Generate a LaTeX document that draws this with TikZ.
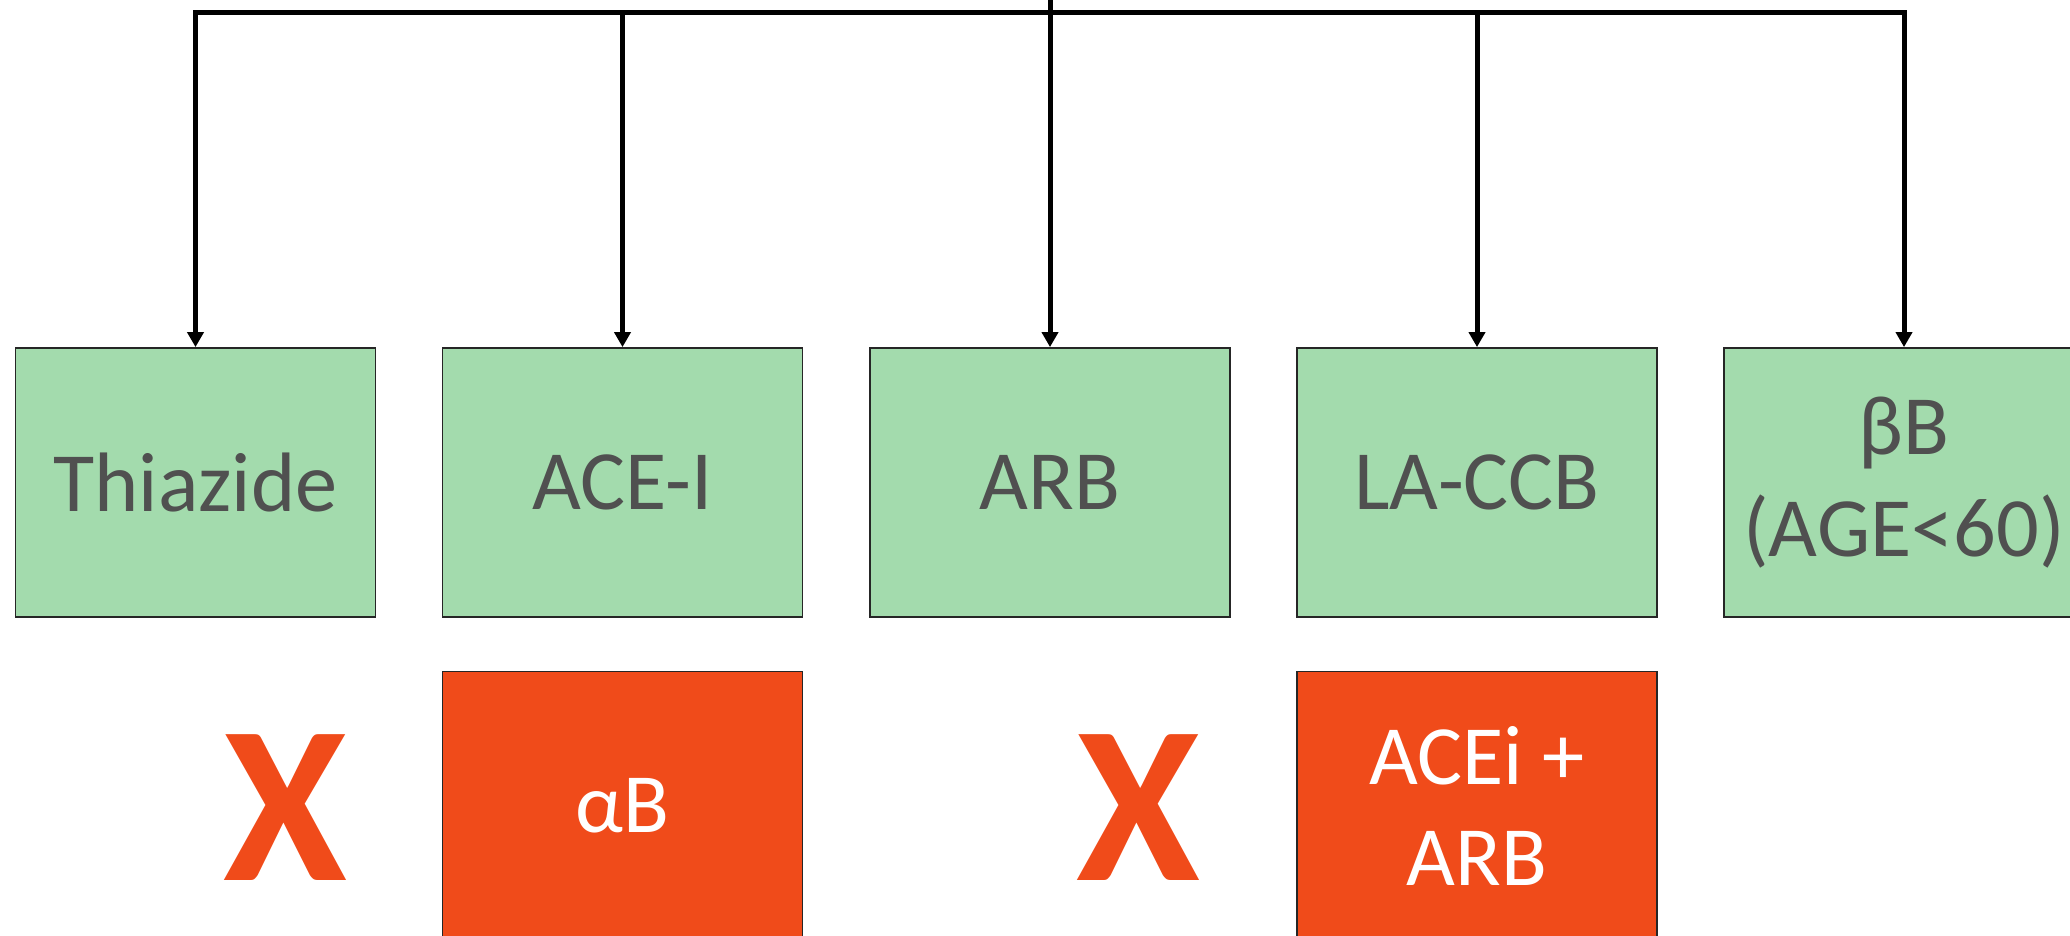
\documentclass[tikz,border=0pt]{standalone}
\usepackage{fontspec}
\setmainfont{Carlito}
\usepackage{xcolor}
\usepackage{tikz}
\usetikzlibrary{positioning, arrows.meta}

\definecolor{drugGreen}{RGB}{163,219,173}
\definecolor{stopRed}{RGB}{240,75,26}
\definecolor{textGray}{RGB}{80,80,80}

\begin{document}
\begin{tikzpicture} [drug/.style = {draw=black!85,
					    line width = 0.5pt,
					    rectangle,
					    minimum width = 3.60cm,
					    minimum height = 2.69cm,
					    fill = drugGreen,
					    text = textGray,
					    align = center,
					    font = \fontsize{24}{28.8}\selectfont},
					 avoid/.style = {drug, fill = stopRed, text = white},
					 cross/.style = {text = stopRed,
					    font = \fontsize{64}{70}\selectfont\bfseries},
					 link/.style = {line width = 0.5mm,
					    -{Triangle[length=1.5mm, width=1.6mm]}}]

					\useasboundingbox (0,0) rectangle (20.70,9.35);
					\clip (0,0) rectangle (20.70,9.35);

					\node (thia) at (1.955,4.525) [drug] {Thiazide};
					\node (acei) at (6.225,4.525) [drug] {ACE-I};
					\node (arb)  at (10.50,4.525) [drug] {ARB};
					\node (ccb)  at (14.77,4.525) [drug] {LA-CCB};
					\node (bb)   at (19.04,4.525) [drug] {βB\\(AGE<60)};

					\node (ab)   at (6.225,1.29) [avoid] {αB};
					\node (combo) at (14.77,1.29) [avoid] {ACEi +\\ARB};

					\node (x1) at (2.85,1.27) [cross] {X};
					\node (x2) at (11.38,1.27) [cross] {X};

					\coordinate (top) at (10.50,9.35);
					\coordinate (hub) at (10.50,9.225);

					\draw [link] (top) -- (arb.north);
					\draw [link] (hub) -| (thia.north);
					\draw [link] (hub) -| (acei.north);
					\draw [link] (hub) -| (ccb.north);
					\draw [link] (hub) -| (bb.north);
				\end{tikzpicture}
\end{document}
